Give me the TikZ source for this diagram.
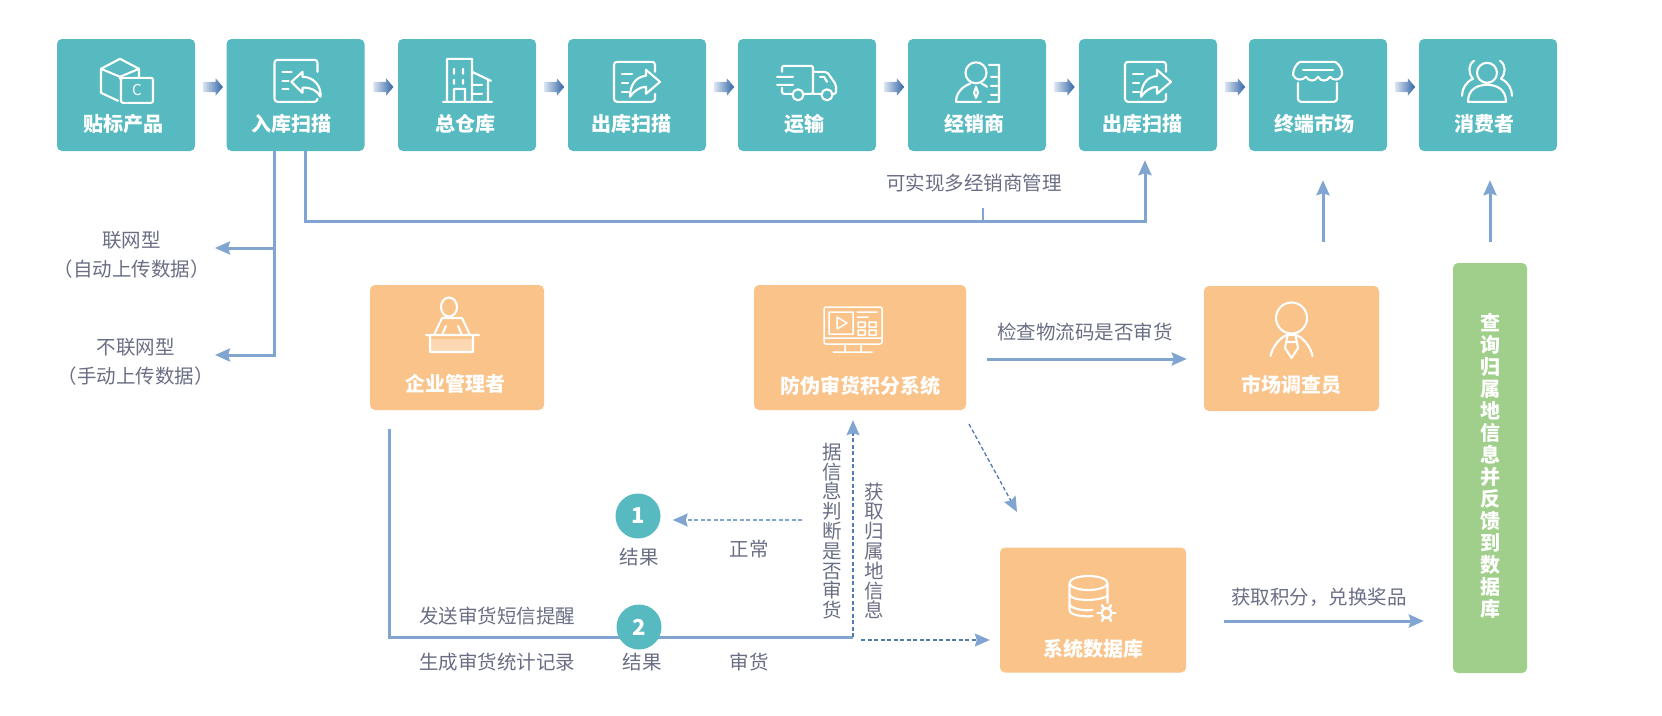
\documentclass[tikz,border=0pt]{standalone}
\usepackage{fontspec}
\newfontfamily\cjk{Noto Sans CJK SC}
\usetikzlibrary{arrows.meta,calc,positioning,shapes.arrows}
\definecolor{traceteal}{RGB}{87,186,192}
\definecolor{traceorange}{RGB}{249,195,138}
\definecolor{tracegreen}{RGB}{160,207,139}
\definecolor{traceblue}{RGB}{127,165,208}
\definecolor{tracenavy}{RGB}{50,100,165}
\definecolor{tracegrey}{RGB}{106,110,132}
\tikzset{
 tealbox/.style={fill=traceteal,rounded corners=5pt,minimum width=138pt,minimum height=112pt,inner sep=0pt},
 orangebox/.style={fill=traceorange,rounded corners=5pt,inner sep=0pt},
 boxtext/.style={text=white,font=\cjk\bfseries\fontsize{20}{24}\selectfont,inner sep=0pt},
 greytext/.style={text=tracegrey,font=\cjk\fontsize{19.5}{24}\selectfont,inner sep=0pt,align=center},
 upright/.style={text=tracegrey,font=\cjk\fontsize{19.5}{19.8}\selectfont,inner sep=0pt,align=center,text width=21pt},
 flowtip/.style={single arrow,minimum height=20pt,inner xsep=0pt,inner ysep=5pt,single arrow head extend=3.5pt,single arrow tip angle=100,left color=traceblue!30!white,right color=tracenavy,shading angle=90},
 flowline/.style={draw=traceblue,line width=3pt},
 flowarrow/.style={flowline,-{Stealth[length=15pt,width=13pt,inset=2pt]}},
 dashedarrow/.style={draw=tracenavy!85,line width=1.3pt,dash pattern=on 4pt off 2.5pt,-{Stealth[length=15pt,width=13pt,inset=2pt,color=traceblue]}},
 resultdot/.style={circle,fill=traceteal,minimum size=45pt,inner sep=0pt,text=white,font=\cjk\bfseries\fontsize{22}{24}\selectfont},
 iconline/.style={draw=white,line width=2.1pt,line cap=round,line join=round},
 tagicon/.pic={
  \draw[iconline] (-25,30) -- (-6,20) -- (13,30) -- (-6,38) -- cycle
   (-25,30) -- (-25,54) -- (-8,62) (-6,38) -- (-6,40) (13,30) -- (13,38);
  \draw[iconline,rounded corners=2pt] (-5,39) rectangle (27,64);
  \node[text=white,font=\cjk\fontsize{15}{16}\selectfont,inner sep=0pt] (tagletter) at (11,51.5) {C};
 },
 scaninicon/.pic={
  \draw[iconline,rounded corners=3pt] (22,33) -- (22,21) -- (-21,21) -- (-21,63) -- (22,63) -- (22,60);
  \draw[iconline] (-13,33) -- (-4,33) (-13,42) -- (-7,42) (-13,50) -- (-7,50);
  \draw[iconline] (-4,43) -- (7,33) -- (7,38) .. controls (18,38) and (26,47) .. (25,58) .. controls (22,52) and (15,48) .. (7,49) -- (7,54) -- cycle;
 },
 scanouticon/.pic={
  \draw[iconline,rounded corners=3pt] (18,33) -- (18,23) -- (-23,23) -- (-23,63) -- (18,63) -- (18,55);
  \draw[iconline] (-15,35) -- (-5,35) (-15,44) -- (-9,44) (-15,53) -- (-9,53);
  \draw[iconline] (23,43) -- (9,31) -- (9,37) .. controls (-2,38) and (-7,47) .. (-7,58) .. controls (-3,52) and (3,48) .. (9,48) -- (9,55) -- cycle;
 },
 depoticon/.pic={
  \draw[iconline] (-24,63) -- (25,63) (-20,63) -- (-20,20) -- (5,20) -- (5,63)
   (5,33) -- (24,42) (21,41) -- (21,63) (5,46) -- (15,46) (5,55) -- (15,55)
   (-13,63) -- (-13,50) -- (-2,50) -- (-2,63)
   (-13,30) -- (-13,35) (-4,30) -- (-4,35) (-13,41) -- (-13,45) (-4,41) -- (-4,45);
 },
 truckicon/.pic={
  \draw[iconline,rounded corners=2pt] (-25,33) -- (-25,27) -- (6,27) -- (6,55) -- (-4,55)
   (-14,55) -- (-25,55) -- (-25,49) (6,33) -- (20,33) -- (29,46) -- (29,55) -- (25,55) (14,55) -- (6,55);
  \draw[iconline] (-30,38) -- (-14,38) (-30,46) -- (-14,46) (13,38) -- (17,38) -- (20,43);
  \draw[iconline] (-9,56) circle (5.5pt) (20,56) circle (5.5pt);
 },
 dealericon/.pic={
  \draw[iconline] (-1,34) circle (10.5pt)
   (-21,63) .. controls (-21,53) and (-13,47) .. (-7,45) (5,45) .. controls (7,46) and (9,47) .. (10,48)
   (-21,63) -- (4,63) (-1,48) -- (-3,54) -- (-1,59) -- (1,54) -- cycle
   (12,26) -- (22,26) -- (22,63) -- (11,63) (14,38) -- (20,38) (14,47) -- (20,47) (14,56) -- (20,56);
 },
 shopicon/.pic={
  \draw[iconline] (-18,23) -- (17,23) .. controls (21,25) and (25,31) .. (24,36)
   .. controls (22,42) and (15,42) .. (12,38) .. controls (9,43) and (3,43) .. (0,38)
   .. controls (-3,43) and (-9,43) .. (-12,38) .. controls (-15,42) and (-23,42) .. (-25,36)
   .. controls (-25,31) and (-22,25) .. (-18,23) -- cycle;
  \draw[iconline] (-15,31) -- (15,31);
  \draw[iconline,rounded corners=3pt] (-20,44) -- (-20,63) -- (19,63) -- (19,44);
 },
 peopleicon/.pic={
  \draw[iconline] (-1,34) circle (10pt)
   (-20,63) .. controls (-20,50) and (-10,46) .. (-1,46) .. controls (8,46) and (18,50) .. (18,63) -- cycle
   (-14,22) .. controls (-20,26) and (-20,34) .. (-15,40) .. controls (-22,43) and (-26,50) .. (-26,57)
   (12,22) .. controls (18,26) and (18,34) .. (13,40) .. controls (20,43) and (24,50) .. (24,57);
 },
 managericon/.pic={
  \fill[white,opacity=.35] (-22,-8) rectangle (21,5);
  \draw[iconline] (-3,-40) ellipse (8pt and 9.5pt)
   (-26,-12) -- (27,-12) (-22,-12) -- (-22,5) -- (21,5) -- (21,-12)
   (-18,-12) -- (-10,-29) -- (10,-29) -- (18,-12) (-10,-12) -- (-6,-21) (10,-12) -- (6,-21);
 },
 monitoricon/.pic={
  \draw[iconline,line width=1.5pt,rounded corners=2pt] (-29,-40) rectangle (29,-3);
  \draw[iconline,line width=1.5pt] (-29,-9) -- (29,-9) (-8,-3) -- (-8,5) (8,-3) -- (8,5) (-20,5) -- (19,5)
   (-24,-35) rectangle (0,-13) (-16,-30) -- (-6,-24) -- (-16,-18) -- cycle
   (4,-35) -- (24,-35) (4,-30) -- (15,-30)
   (5,-25) rectangle (12,-20) (16,-25) rectangle (23,-20) (5,-17) rectangle (12,-12) (16,-17) rectangle (23,-12);
 },
 surveyicon/.pic={
  \draw[iconline] (0,-29) circle (15.5pt)
   (-21,9) .. controls (-19,0) and (-13,-8) .. (-5,-12) (21,9) .. controls (19,0) and (13,-8) .. (5,-12)
   (-4,-12) -- (-6.5,1) -- (0,11) -- (6.5,1) -- (4,-12) (-4,-12) -- (4,-12) (-5,-5) -- (5,-5);
 },
 storeicon/.pic={
  \draw[iconline] (0,-28) ellipse (19pt and 7pt)
   (-19,-28) -- (-19,-1) .. controls (-19,5) and (-2,6) .. (4,5)
   (19,-28) -- (19,-8)
   (-19,-17) .. controls (-19,-10) and (8,-9) .. (19,-15)
   (-19,-7) .. controls (-17,-2) and (-6,0) .. (4,-1);
  \draw[iconline,line width=2.4pt] (18,2) circle (5pt);
  \foreach \spoke in {0,60,...,300} \draw[iconline,line width=2.6pt] (18,2) ++(\spoke:5pt) -- ++(\spoke:4pt);
 },
}
\begin{document}
\begin{tikzpicture}[x=1pt,y=-1pt,>=Stealth,line cap=butt]
 \useasboundingbox (0,0) rectangle (1662,715);
 % top row
 \node[tealbox] (tagged) at (126,95) {};
 \node[tealbox] (scanin) at (295.5,95) {};
 \node[tealbox] (depot) at (467,95) {};
 \node[tealbox] (scanout) at (637,95) {};
 \node[tealbox] (transport) at (807,95) {};
 \node[tealbox] (dealer) at (977,95) {};
 \node[tealbox] (rescan) at (1148,95) {};
 \node[tealbox] (market) at (1318,95) {};
 \node[tealbox] (consumer) at (1488,95) {};
 \node[boxtext] (taggedtext) at ([xshift=-3pt,yshift=-29pt]tagged.center) {贴标产品};
 \node[boxtext] (scanintext) at ([xshift=-4pt,yshift=-29pt]scanin.center) {入库扫描};
 \node[boxtext] (depottext) at ([xshift=-2pt,yshift=-29pt]depot.center) {总仓库};
 \node[boxtext] (scanouttext) at ([xshift=-6pt,yshift=-29pt]scanout.center) {出库扫描};
 \node[boxtext] (transporttext) at ([xshift=-3pt,yshift=-29pt]transport.center) {运输};
 \node[boxtext] (dealertext) at ([xshift=-3pt,yshift=-29pt]dealer.center) {经销商};
 \node[boxtext] (rescantext) at ([xshift=-6pt,yshift=-29pt]rescan.center) {出库扫描};
 \node[boxtext] (markettext) at ([xshift=-4pt,yshift=-29pt]market.center) {终端市场};
 \node[boxtext] (consumertext) at ([xshift=-4pt,yshift=-29pt]consumer.center) {消费者};
 \pic at (tagged.north) {tagicon};
 \pic at (scanin.north) {scaninicon};
 \pic at (depot.north) {depoticon};
 \pic at (scanout.north) {scanouticon};
 \pic at (transport.north) {truckicon};
 \pic at (dealer.north) {dealericon};
 \pic at (rescan.north) {scanouticon};
 \pic at (market.north) {shopicon};
 \pic at (consumer.north) {peopleicon};
 \path ([yshift=8pt]tagged.east) -- ([yshift=8pt]scanin.west) node[midway,flowtip] (step1) {};
 \path ([yshift=8pt]scanin.east) -- ([yshift=8pt]depot.west) node[midway,flowtip] (step2) {};
 \path ([yshift=8pt]depot.east) -- ([yshift=8pt]scanout.west) node[midway,flowtip] (step3) {};
 \path ([yshift=8pt]scanout.east) -- ([yshift=8pt]transport.west) node[midway,flowtip] (step4) {};
 \path ([yshift=8pt]transport.east) -- ([yshift=8pt]dealer.west) node[midway,flowtip] (step5) {};
 \path ([yshift=8pt]dealer.east) -- ([yshift=8pt]rescan.west) node[midway,flowtip] (step6) {};
 \path ([yshift=8pt]rescan.east) -- ([yshift=8pt]market.west) node[midway,flowtip] (step7) {};
 \path ([yshift=8pt]market.east) -- ([yshift=8pt]consumer.west) node[midway,flowtip] (step8) {};
 % left branch and long return
 \node[greytext] (onlinetag) at (131.5,255) {联网型\\[5pt]（自动上传数据）};
 \node[greytext] (offlinetag) at (135.5,362) {不联网型\\[5pt]（手动上传数据）};
 \node[greytext] (multidealer) at (974,183) {可实现多经销商管理};
 \coordinate (onlinefork) at (274,248);
 \coordinate (offlinefork) at (274,355);
 \coordinate (onlinetip) at (215,248);
 \coordinate (offlinetip) at (215,355);
 \coordinate (returncorner) at (305,221);
 \coordinate (dealertick) at (983,208);
 \draw[flowline] ([xshift=-21.5pt]scanin.south) -- (offlinefork);
 \draw[flowarrow] (onlinefork) -- (onlinetip);
 \draw[flowarrow] ([xshift=1.5pt]offlinefork) -- (offlinetip);
 \draw[flowarrow] (returncorner |- scanin.south) -- (returncorner) -| ([xshift=-3pt,yshift=-9pt]rescan.south);
 \draw[draw=traceblue,line width=2.5pt] (dealertick) -- (dealertick |- returncorner);
 % lower boxes
 \node[orangebox,minimum width=174pt,minimum height=125pt] (manager) at (457,347.5) {};
 \node[orangebox,minimum width=212pt,minimum height=125pt] (system) at (860,347.5) {};
 \node[orangebox,minimum width=175pt,minimum height=125pt] (surveyor) at (1291.5,348.5) {};
 \node[orangebox,minimum width=186pt,minimum height=125pt] (store) at (1093,610) {};
 \node[fill=tracegreen,rounded corners=5pt,minimum width=74pt,minimum height=410pt,inner sep=0pt] (query) at (1490,468) {};
 \node[boxtext] (managertext) at (455,384) {企业管理者};
 \node[boxtext] (systemtext) at (860,386) {防伪审货积分系统};
 \node[boxtext] (surveyortext) at (1291,385) {市场调查员};
 \node[boxtext] (storetext) at (1093,649) {系统数据库};
 \node[boxtext,align=center,text width=22pt,font=\cjk\bfseries\fontsize{20}{22}\selectfont] (querytext) at (1490,466) {查\\询\\归\\属\\地\\信\\息\\并\\反\\馈\\到\\数\\据\\库};
 \pic at (452,347) {managericon};
 \pic at (853,347) {monitoricon};
 \pic at (1291.5,347) {surveyicon};
 \pic at (1088.5,611) {storeicon};
 % lower connectors
 \coordinate (alarmfork) at (853,637);
 \coordinate (storefork) at (861,640);
 \coordinate (normalfork) at (802,520);
 \coordinate (diagstart) at (969,424);
 \coordinate (diagend) at (1017,512);
 \coordinate (surveytop) at (1323,286);
 \coordinate (pointsstart) at ([yshift=-11pt]store.east);
 \coordinate (checkstart) at ([yshift=-11.5pt]system.east);
 \draw[flowarrow,shorten <=21pt,shorten >=17pt] (checkstart) -- (checkstart -| surveyor.west);
 \draw[flowarrow,shorten <=44pt,shorten >=29pt] (surveytop) -- (surveytop |- market.south);
 \draw[flowarrow,shorten <=21pt,shorten >=29pt] (query.north) -- (query.north |- consumer.south);
 \draw[flowarrow,shorten <=38pt,shorten >=29pt] (pointsstart) -- (pointsstart -| query.west);
 \draw[flowline,shorten <=19pt] ([xshift=-68pt]manager.south) |- (alarmfork);
 \draw[dashedarrow,shorten >=10pt] (alarmfork) -- (alarmfork |- system.south);
 \draw[dashedarrow,shorten >=10pt] (storefork) -- (storefork -| store.west);
 \draw[dashedarrow] (diagstart) -- (diagend);
 \node[resultdot] (first) at (638,516) {1};
 \node[resultdot] (second) at (639,627) {2};
 \draw[dashedarrow,draw=traceblue,line width=1.1pt,shorten >=12pt] (normalfork) -- (normalfork -| first.east);
 % labels
 \node[greytext] (firsttext) at (639,557) {结果};
 \node[greytext] (secondtext) at (642,662) {结果};
 \node[greytext] (normaltext) at (749,549) {正常};
 \node[greytext] (faketext) at (749,662) {审货};
 \node[greytext] (smstext) at (497,616) {发送审货短信提醒};
 \node[greytext] (recordtext) at (497,662) {生成审货统计记录};
 \node[greytext] (checktext) at (1085,332) {检查物流码是否审货};
 \node[greytext] (pointstext) at (1319,597) {获取积分，兑换奖品};
 \node[upright] (judgetext) at (832,531) {据\\信\\息\\判\\断\\是\\否\\审\\货};
 \node[upright] (origintext) at (874,551) {获\\取\\归\\属\\地\\信\\息};
\end{tikzpicture}
\end{document}
